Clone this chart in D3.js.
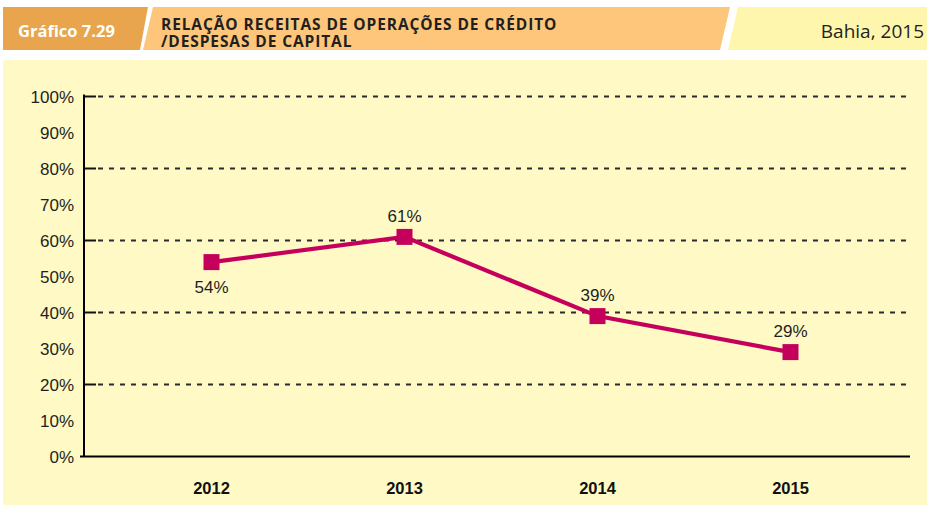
<!DOCTYPE html>
<html>
<head>
<meta charset="utf-8">
<script src="https://cdn.jsdelivr.net/npm/d3@7"></script>
<style>
  html, body { margin: 0; padding: 0; background: #ffffff; }
  svg { display: block; }
</style>
</head>
<body>
<svg id="chart" width="927" height="505"></svg>
<script>
// Relação receitas de operações de crédito / despesas de capital — Bahia
const years = ["2012", "2013", "2014", "2015"];
const ratios = [54, 61, 39, 29];
const yTicks = [0, 10, 20, 30, 40, 50, 60, 70, 80, 90, 100];
const gridTicks = [20, 40, 60, 80, 100];
const labelBelow = [true, false, false, false];

const svg = d3.select("#chart");
const condensed = "'Liberation Sans Narrow', 'Arial Narrow', sans-serif";
const heading = "'Open Sans', 'Noto Sans', sans-serif";

// ---- header band ----
svg.append("polygon")
  .attr("points", "3,7 148,7 140,50 3,50")
  .attr("fill", "#E8A54E");
svg.append("polygon")
  .attr("points", "153,7 730,7 720,50 143,50")
  .attr("fill", "#FDC67A");
svg.append("polygon")
  .attr("points", "738,7 927,7 927,50 728,50")
  .attr("fill", "#FFF6AE");

svg.append("text")
  .attr("x", 18).attr("y", 37)
  .attr("font-family", heading).attr("font-weight", 700)
  .attr("font-size", 16.5).attr("fill", "#ffffff")
  .text("Gráfico 7.29");

const title = svg.append("text")
  .attr("font-family", heading).attr("font-weight", 700)
  .attr("font-size", 15.5).attr("letter-spacing", 0.9)
  .attr("fill", "#231f20");
title.append("tspan").attr("x", 161).attr("y", 30)
  .text("RELAÇÃO RECEITAS DE OPERAÇÕES DE CRÉDITO");
title.append("tspan").attr("x", 161).attr("y", 47)
  .text("/DESPESAS DE CAPITAL");

svg.append("text")
  .attr("x", 924).attr("y", 38)
  .attr("text-anchor", "end")
  .attr("font-family", heading)
  .attr("font-size", 19).attr("fill", "#231f20")
  .text("Bahia, 2015");

// ---- chart panel ----
svg.append("rect")
  .attr("x", 3).attr("y", 60).attr("width", 924).attr("height", 445)
  .attr("fill", "#FFF9C6");

const x = d3.scaleBand().domain(years).range([115, 887]);
const y = d3.scaleLinear().domain([0, 100]).range([456.5, 96.5]);
const axisLeft = 84, axisRight = 910;

// dashed gridlines
svg.append("g").selectAll("line").data(gridTicks).join("line")
  .attr("x1", axisLeft + 14).attr("x2", axisRight)
  .attr("y1", d => y(d)).attr("y2", d => y(d))
  .attr("stroke", "#2b2b2b").attr("stroke-width", 2)
  .attr("stroke-dasharray", "5,6");
// short solid tick marks at the gridlines
svg.append("g").selectAll("line").data(gridTicks).join("line")
  .attr("x1", axisLeft).attr("x2", axisLeft + 12)
  .attr("y1", d => y(d)).attr("y2", d => y(d))
  .attr("stroke", "#111").attr("stroke-width", 2);

// y axis labels
const yAxis = d3.axisLeft(y).tickValues(yTicks).tickSize(0).tickPadding(10)
  .tickFormat(d => d + "%");
const gy = svg.append("g").attr("transform", `translate(${axisLeft},0)`).call(yAxis);
gy.select(".domain").remove();
gy.selectAll("text")
  .attr("font-family", condensed).attr("font-size", 17)
  .attr("fill", "#231f20").attr("dy", "0.36em");

// axis lines
svg.append("line")
  .attr("x1", axisLeft).attr("x2", axisLeft)
  .attr("y1", y(100) - 2).attr("y2", y(0))
  .attr("stroke", "#000").attr("stroke-width", 2);
svg.append("line")
  .attr("x1", axisLeft - 4).attr("x2", axisRight)
  .attr("y1", y(0)).attr("y2", y(0))
  .attr("stroke", "#000").attr("stroke-width", 2);

// x axis labels
const xAxis = d3.axisBottom(x).tickSize(0).tickPadding(0);
const gx = svg.append("g").attr("transform", `translate(0,${y(0)})`).call(xAxis);
gx.select(".domain").remove();
gx.selectAll("text")
  .attr("font-family", condensed).attr("font-weight", 700)
  .attr("font-size", 16.5).attr("fill", "#111").attr("dy", 0).attr("y", 37);

// series line
const pts = years.map((yr, i) => ({ yr, v: ratios[i], below: labelBelow[i] }));
const cx = d => x(d.yr) + x.bandwidth() / 2;
svg.append("path")
  .datum(pts)
  .attr("fill", "none")
  .attr("stroke", "#C4005C")
  .attr("stroke-width", 4.2)
  .attr("d", d3.line().x(cx).y(d => y(d.v)));

// square markers
const ms = 16;
svg.append("g").selectAll("rect").data(pts).join("rect")
  .attr("x", d => cx(d) - ms / 2).attr("y", d => y(d.v) - ms / 2)
  .attr("width", ms).attr("height", ms)
  .attr("fill", "#C4005C");

// value labels
svg.append("g").selectAll("text").data(pts).join("text")
  .attr("x", cx)
  .attr("y", d => d.below ? y(d.v) + 31 : y(d.v) - 15)
  .attr("text-anchor", "middle")
  .attr("font-family", condensed).attr("font-size", 17)
  .attr("fill", "#231f20")
  .text(d => d.v + "%");
</script>
</body>
</html>
